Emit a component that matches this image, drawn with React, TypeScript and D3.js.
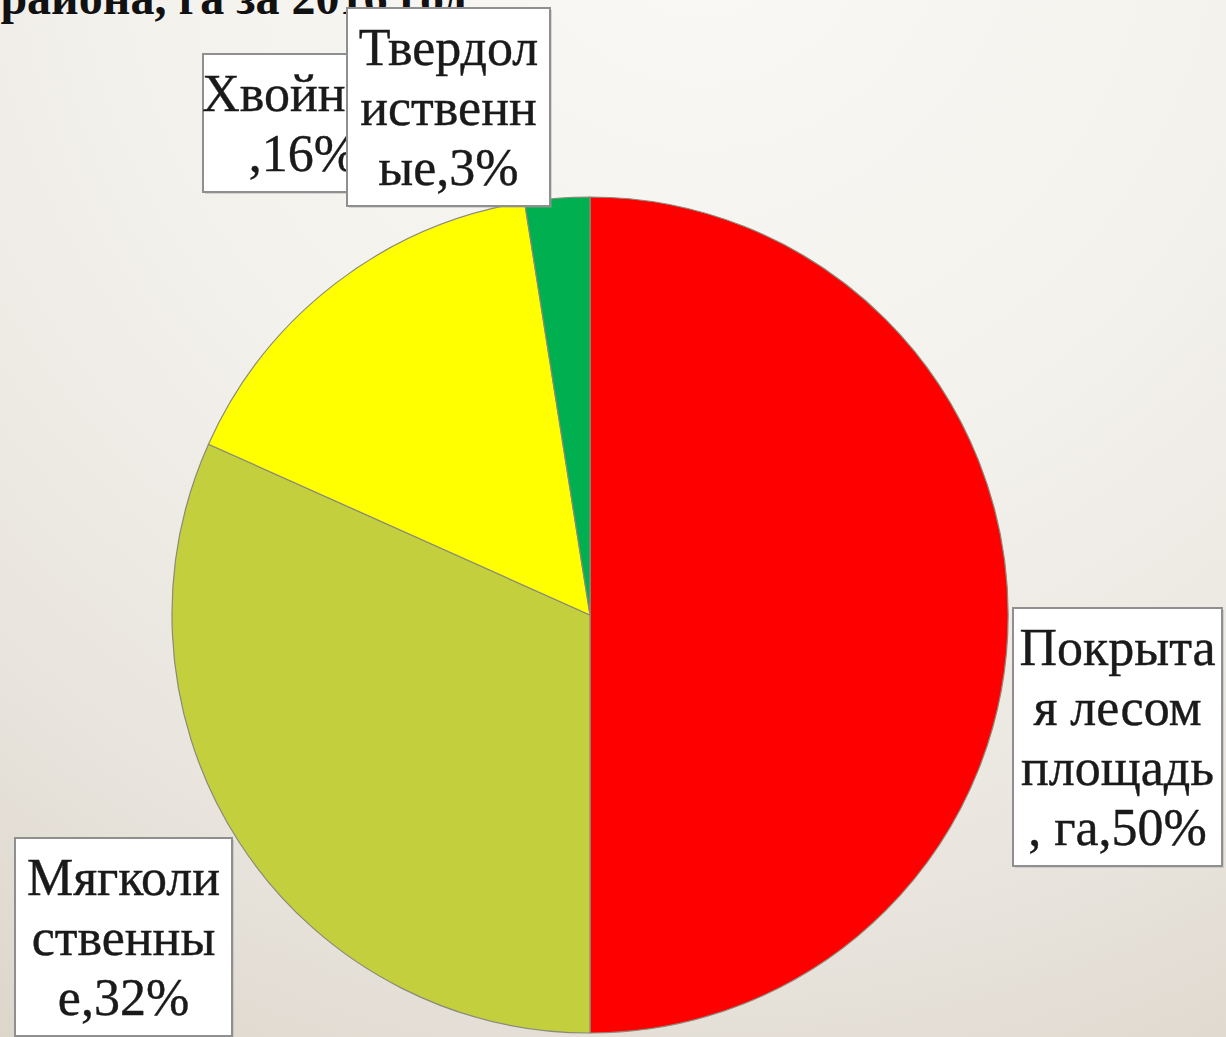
import React from "react";
import * as d3 from "d3";

const categories = ["Покрытая лесом площадь, га", "Мягколиственные", "Хвойные", "Твердолиственные"];
const values = [50, 31.7, 15.8, 2.5];
const percentLabels = ["50%", "32%", "16%", "3%"];
const labelLines = [
  ["Покрыта", "я лесом", "площадь", ", га,50%"],
  ["Мягколи", "ственны", "е,32%"],
  ["Хвойные", ",16%"],
  ["Твердол", "иственн", "ые,3%"],
];
const colors = ["#FF0000", "#C3CF3D", "#FFFF00", "#00B050"];
const titleText = "района, га за 2016 год";

const W = 1226;
const H = 1037;
const cx = 590;
const cy = 615;
const R = 418;

// label box layout (index into categories)
const boxes = [
  { i: 2, x: 203, y: 54, w: 200 },
  { i: 3, x: 347, y: 8, w: 203 },
  { i: 0, x: 1013, y: 608, w: 209 },
  { i: 1, x: 15, y: 838, w: 217 },
];

export default function App() {
  const pie = d3
    .pie<number>()
    .sort(null)
    .startAngle(0)
    .endAngle(2 * Math.PI)
    .value((d) => d);
  const arcs = pie(values);
  const arc = d3.arc<d3.PieArcDatum<number>>().innerRadius(0).outerRadius(R);
  const font = "'Liberation Serif', 'Times New Roman', serif";
  const lineH = 60;

  return (
    <svg
      width={W}
      height={H}
      viewBox={`0 0 ${W} ${H}`}
      style={{ position: "absolute", left: 0, top: 0, display: "block" }}
    >
      <defs>
        <radialGradient id="bg" cx="700" cy="-100" r="1350" gradientUnits="userSpaceOnUse">
          <stop offset="0" stopColor="#FAF9F6" />
          <stop offset="0.45" stopColor="#F3F1EC" />
          <stop offset="0.75" stopColor="#E9E5DE" />
          <stop offset="1" stopColor="#DCD5CA" />
        </radialGradient>
      </defs>
      <rect x={0} y={0} width={W} height={H} fill="url(#bg)" />
      <text
        x={467}
        y={14}
        textAnchor="end"
        fontFamily={font}
        fontWeight="bold"
        fontSize={48}
        fill="#111"
      >
        {titleText}
      </text>
      <g transform={`translate(${cx},${cy})`}>
        {arcs.map((a, k) => (
          <path key={categories[k]} d={arc(a) || ""} fill={colors[k]} stroke="#8a8a7a" strokeWidth={1.2} />
        ))}
      </g>
      {boxes.map((b) => {
        const lines = labelLines[b.i];
        const h = lines.length * lineH + 18;
        return (
          <g key={categories[b.i]}>
            <rect x={b.x + 2} y={b.y + 2} width={b.w} height={h} fill="#9a9a9a" opacity={0.35} />
            <rect x={b.x} y={b.y} width={b.w} height={h} fill="#FFFFFF" stroke="#8f8f8f" strokeWidth={2} />
            {lines.map((ln, j) => (
              <text
                key={j}
                x={b.x + b.w / 2}
                y={b.y + 57 + j * lineH}
                textAnchor="middle"
                fontFamily={font}
                fontSize={52}
                fill="#1a1a1a"
                stroke="#1a1a1a"
                strokeWidth={0.4}
              >
                {ln}
              </text>
            ))}
          </g>
        );
      })}
    </svg>
  );
}
